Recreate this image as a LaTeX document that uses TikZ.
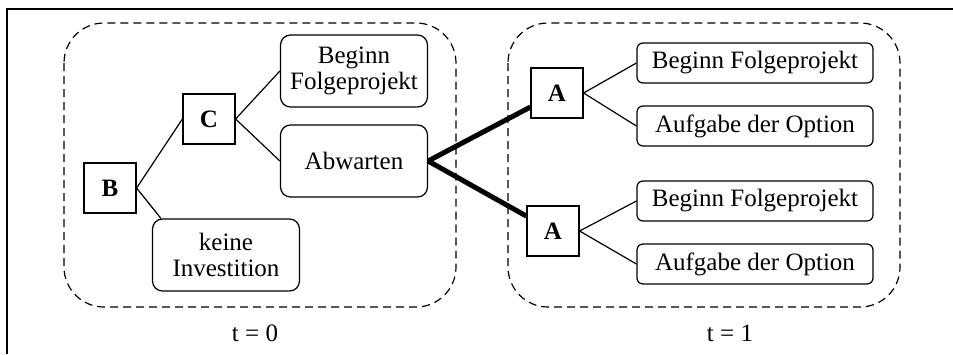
\documentclass[tikz,border=0pt]{standalone}
\usepackage{fontspec}
\setmainfont{Liberation Serif}
\begin{document}
\begin{tikzpicture}[x=0.5pt,y=-0.5pt,
  every node/.style={font=\fontsize{12.5}{13}\selectfont},
  decision/.style={draw, line width=0.6pt, minimum width=26pt, minimum height=25pt,
    inner sep=0pt, font=\fontsize{12.5}{13}\selectfont\bfseries},
  outcome/.style={draw, line width=0.6pt, rounded corners=5pt, minimum width=73.5pt,
    minimum height=36pt, inner sep=0pt, align=center},
  option/.style={draw, line width=0.6pt, rounded corners=3pt, minimum width=118pt,
    minimum height=20pt, inner sep=0pt},
  phase/.style={draw, dash pattern=on 4pt off 2.5pt, line width=0.6pt, rounded corners=20pt},
  branch/.style={line width=0.6pt},
  mainbranch/.style={line width=2.5pt}
]
\useasboundingbox (0,0) rectangle (953,354);

% open frame: left and top rule only
\draw[line width=0.75pt] (7,354) -- (7,9) -- (953,9);

% the two periods
\draw[phase] (64,23) rectangle (456,307);
\draw[phase] (508,23) rectangle (900,307);

% period t = 0
\node[decision] (B) at (110,188) {B};
\node[decision] (C) at (209,119) {C};
\node[outcome] (beginn) at (354,71) {Beginn\\Folgeprojekt};
\node[outcome] (abw) at (354,161) {Abwarten};
\node[outcome] (keine) at (226,255) {keine\\Investition};

% period t = 1
\node[decision] (A1) at (557,93) {A};
\node[decision] (A2) at (553,231) {A};
\node[option] (o1) at (755,63) {Beginn Folgeprojekt};
\node[option] (o2) at (755,126) {Aufgabe der Option};
\node[option] (o3) at (755,201) {Beginn Folgeprojekt};
\node[option] (o4) at (755,264) {Aufgabe der Option};

% time labels
\node (t0) at (255,333) {t = 0};
\node (t1) at (730,333) {t = 1};

% branches
\draw[branch] (B.east) -- (C.west);
\draw[branch] (B.east) -- ([xshift=4.5pt]keine.north west);
\draw[branch] (C.east) -- (beginn.west);
\draw[branch] (C.east) -- (abw.west);
\draw[mainbranch] (abw.east) -- (A1);
\draw[mainbranch] (abw.east) -- (A2);
\draw[branch] (A1.east) -- (o1.west);
\draw[branch] (A1.east) -- (o2.west);
\draw[branch] (A2.east) -- (o3.west);
\draw[branch] (A2.east) -- (o4.west);
\end{tikzpicture}
\end{document}
